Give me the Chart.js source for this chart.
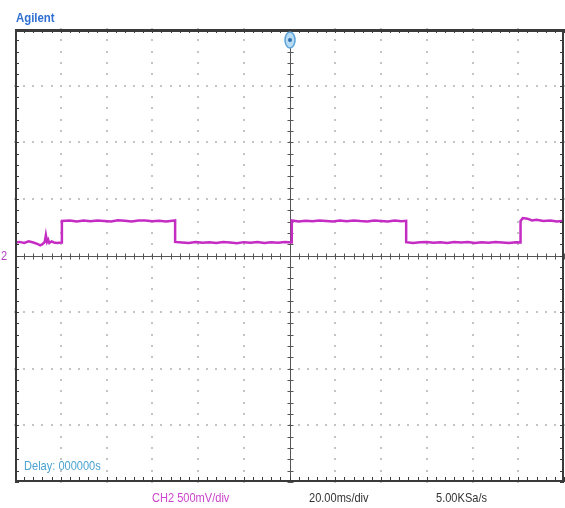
<!DOCTYPE html>
<html>
<head>
<meta charset="utf-8">
<script src="https://cdn.jsdelivr.net/npm/chart.js@4/dist/chart.umd.min.js"></script>
<style>
  html, body { margin: 0; padding: 0; background: #fff; }
  #wrap { position: relative; width: 565px; height: 508px; overflow: hidden; }
  canvas { position: absolute; left: 0; top: 0; }
  .lbl { position: absolute; white-space: nowrap; font-family: "Liberation Sans", Arial, sans-serif; line-height: 1; transform-origin: 0 0; transform: scaleX(0.85); }
</style>
</head>
<body>
<div id="wrap">
  <canvas id="c" width="565" height="508"></canvas>
  <div class="lbl" id="brand" style="left:16px; top:12px; font-size:12px; font-weight:bold; color:#2f70d0; transform:scaleX(0.95);">Agilent</div>
  <div class="lbl" id="gnd" style="left:1px; top:249px; font-size:13px; color:#b040c0;">2</div>
  <div class="lbl" id="delay" style="left:24px; top:459px; font-size:13px; color:#4aa3d0;">Delay: 000000s</div>
  <div class="lbl" id="ch" style="left:152px; top:491px; font-size:13px; color:#cc44cc;">CH2 500mV/div</div>
  <div class="lbl" id="tb" style="left:309px; top:491px; font-size:13px; color:#333;">20.00ms/div</div>
  <div class="lbl" id="sr" style="left:436px; top:491px; font-size:13px; color:#333;">5.00KSa/s</div>
</div>
<script>
// ---- Data (time in ms, CH2 in volts) ----
const timeMs = [
  -120, -118, -116, -114, -112, -110, -109, -108, -107, -106.5, -106, -105.5, -105, -104, -103, -101.5, -100, -99.5,
  -99.5, -96, -93, -90, -87, -84, -81, -78, -75, -72, -69, -66, -63, -60, -57, -54, -50,
  -50, -47, -44, -41, -38, -35, -32, -29, -26, -23, -20, -17, -14, -11, -8, -5, -2, 1,
  1, 4, 7, 10, 13, 16, 19, 22, 25, 28, 31, 34, 37, 40, 43, 46, 49, 51,
  51, 54, 57, 60, 63, 66, 69, 72, 75, 78, 81, 84, 87, 90, 93, 96, 99, 101,
  101, 102, 104, 106, 108, 111, 114, 117, 120
];
const ch2Volts = [
  0.115, 0.12, 0.11, 0.125, 0.115, 0.10, 0.09, 0.10, 0.12, 0.18, 0.12, 0.14, 0.11, 0.125, 0.115, 0.11, 0.115, 0.115,
  0.305, 0.31, 0.30, 0.308, 0.302, 0.31, 0.305, 0.30, 0.312, 0.306, 0.30, 0.308, 0.31, 0.303, 0.307, 0.30, 0.309,
  0.12, 0.115, 0.11, 0.12, 0.113, 0.118, 0.11, 0.12, 0.115, 0.108, 0.118, 0.112, 0.12, 0.11, 0.117, 0.113, 0.12, 0.115,
  0.31, 0.30, 0.307, 0.302, 0.31, 0.305, 0.30, 0.308, 0.303, 0.31, 0.304, 0.30, 0.309, 0.305, 0.30, 0.308, 0.303, 0.306,
  0.118, 0.11, 0.116, 0.12, 0.112, 0.117, 0.11, 0.119, 0.114, 0.12, 0.11, 0.117, 0.113, 0.12, 0.115, 0.11, 0.118, 0.115,
  0.305, 0.33, 0.325, 0.31, 0.315, 0.305, 0.31, 0.30, 0.308
];
// Screen divisions: 12 horizontal x 20 ms/div, 8 vertical x 500 mV/div
const timeDivs = [-120, -100, -80, -60, -40, -20, 0, 20, 40, 60, 80, 100, 120];
const voltDivs = [-2, -1.5, -1, -0.5, 0, 0.5, 1, 1.5, 2];
const subDivisions = 5;

const points = timeMs.map((t, i) => ({ x: t, y: ch2Volts[i] }));

function minorValues(divs) {
  const out = [];
  for (let i = 0; i < divs.length - 1; i++) {
    const step = (divs[i + 1] - divs[i]) / subDivisions;
    for (let k = 0; k < subDivisions; k++) out.push(divs[i] + k * step);
  }
  out.push(divs[divs.length - 1]);
  return out;
}

const scopeScreen = {
  id: 'scopeScreen',
  beforeDatasetsDraw(chart) {
    const { ctx, chartArea: a, scales: { x, y } } = chart;
    const xMinor = minorValues(timeDivs);
    const yMinor = minorValues(voltDivs);
    ctx.save();
    // dotted graticule
    ctx.fillStyle = '#c4c4c4';
    timeDivs.forEach(tv => {
      if (tv === 0 || tv === timeDivs[0] || tv === timeDivs[timeDivs.length - 1]) return;
      const px = Math.round(x.getPixelForValue(tv));
      yMinor.forEach(vv => { const py = Math.round(y.getPixelForValue(vv)); ctx.fillRect(px - 1, py - 1, 2, 2); });
    });
    voltDivs.forEach(vv => {
      if (vv === 0 || vv === voltDivs[0] || vv === voltDivs[voltDivs.length - 1]) return;
      const py = Math.round(y.getPixelForValue(vv));
      xMinor.forEach(tv => { const px = Math.round(x.getPixelForValue(tv)); ctx.fillRect(px - 1, py - 1, 2, 2); });
    });
    // center axes with ticks
    const cx = Math.round(x.getPixelForValue(0)) + 0.5;
    const cy = Math.round(y.getPixelForValue(0)) + 0.5;
    ctx.strokeStyle = '#555';
    ctx.lineWidth = 1;
    ctx.beginPath();
    ctx.moveTo(a.left, cy); ctx.lineTo(a.right, cy);
    ctx.moveTo(cx, a.top); ctx.lineTo(cx, a.bottom);
    xMinor.forEach(tv => { const px = Math.round(x.getPixelForValue(tv)) + 0.5; ctx.moveTo(px, cy - 3); ctx.lineTo(px, cy + 3); });
    yMinor.forEach(vv => { const py = Math.round(y.getPixelForValue(vv)) + 0.5; ctx.moveTo(cx - 3, py); ctx.lineTo(cx + 3, py); });
    ctx.stroke();
    ctx.restore();
  },
  afterDatasetsDraw(chart) {
    const { ctx, chartArea: a, scales: { x, y } } = chart;
    const xMinor = minorValues(timeDivs);
    const yMinor = minorValues(voltDivs);
    ctx.save();
    ctx.strokeStyle = '#3a3a3a';
    ctx.lineWidth = 1;
    ctx.beginPath();
    xMinor.forEach(tv => {
      const px = Math.round(x.getPixelForValue(tv)) + 0.5;
      ctx.moveTo(px, a.top); ctx.lineTo(px, a.top + 4);
      ctx.moveTo(px, a.bottom); ctx.lineTo(px, a.bottom - 5);
    });
    yMinor.forEach(vv => {
      const py = Math.round(y.getPixelForValue(vv)) + 0.5;
      ctx.moveTo(a.left, py); ctx.lineTo(a.left + 4, py);
      ctx.moveTo(a.right, py); ctx.lineTo(a.right - 4, py);
    });
    ctx.stroke();
    // frame
    ctx.lineWidth = 2;
    ctx.strokeRect(a.left + 1, a.top + 1, a.right - a.left - 2, a.bottom - a.top - 2);
    ctx.fillStyle = '#3a3a3a';
    ctx.fillRect(a.left, a.top, a.right - a.left, 3);
    // trigger marker at top centre
    const tx = x.getPixelForValue(0) + 0.5;
    ctx.beginPath();
    ctx.ellipse(tx, a.top + 11, 5, 8, 0, 0, Math.PI * 2);
    ctx.fillStyle = '#b8dcf4';
    ctx.fill();
    ctx.strokeStyle = '#5aa2d8';
    ctx.lineWidth = 1.5;
    ctx.stroke();
    ctx.beginPath();
    ctx.arc(tx, a.top + 11, 2, 0, Math.PI * 2);
    ctx.fillStyle = '#2f6fb0';
    ctx.fill();
    ctx.restore();
  }
};

new Chart(document.getElementById('c'), {
  type: 'line',
  data: {
    datasets: [{
      label: 'CH2',
      data: points,
      borderColor: '#c42cc4',
      borderWidth: 2.5,
      pointRadius: 0,
      tension: 0,
      fill: false
    }]
  },
  options: {
    responsive: false,
    animation: false,
    events: [],
    layout: { padding: { left: 15, top: 29, right: 1, bottom: 26 } },
    plugins: { legend: { display: false }, tooltip: { enabled: false }, title: { display: false } },
    scales: {
      x: { type: 'linear', min: timeDivs[0], max: timeDivs[timeDivs.length - 1], display: false },
      y: { type: 'linear', min: voltDivs[0], max: voltDivs[voltDivs.length - 1], display: false }
    }
  },
  plugins: [scopeScreen]
});
</script>
</body>
</html>
